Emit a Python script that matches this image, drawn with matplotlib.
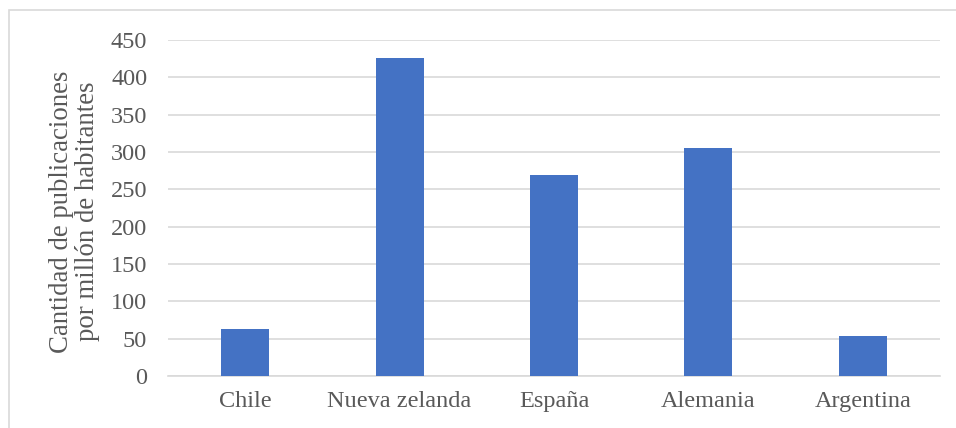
import matplotlib.pyplot as plt
from matplotlib.patches import Rectangle

paises = ['Chile', 'Nueva zelanda', 'España', 'Alemania', 'Argentina']
publicaciones = [62.5, 426.5, 269, 305.5, 53]
yticks = [0, 50, 100, 150, 200, 250, 300, 350, 400, 450]

plt.rcParams['font.family'] = ['Liberation Serif', 'DejaVu Serif']
gris = '#595959'

fig = plt.figure(figsize=(9.56, 4.28), dpi=100)
ax = fig.add_axes([0.1757, 0.1215, 0.8076, 0.785])

ax.bar(range(len(paises)), publicaciones, width=0.31, color='#4472C4', zorder=3)

ax.set_xlim(-0.5, len(paises) - 0.5)
ax.set_ylim(0, 450)
ax.set_yticks(yticks)
ax.set_xticks(range(len(paises)))
ax.set_xticklabels(paises)
ax.tick_params(axis='both', length=0, labelsize=17.5, colors=gris)
ax.tick_params(axis='y', pad=15)
ax.tick_params(axis='x', pad=11)
ax.grid(axis='y', color='#D9D9D9', linewidth=1.2, zorder=0)
for s in ['top', 'right', 'left']:
    ax.spines[s].set_visible(False)
ax.spines['bottom'].set_color('#D9D9D9')
ax.spines['bottom'].set_linewidth(1.2)

ax.set_ylabel('Cantidad de publicaciones\npor millón de habitantes',
              fontsize=19.3, color=gris, linespacing=1.05)
ax.yaxis.set_label_coords(-0.088, 0.49)

# marco del gráfico (solo se ven los bordes superior e izquierdo)
fig.patches.append(Rectangle((9 / 956, -0.1), 1.2, 1 - 10 / 428 + 0.1,
                             transform=fig.transFigure, fill=False,
                             edgecolor='#D9D9D9', linewidth=1.2))

fig.savefig('out.png', dpi=100)
